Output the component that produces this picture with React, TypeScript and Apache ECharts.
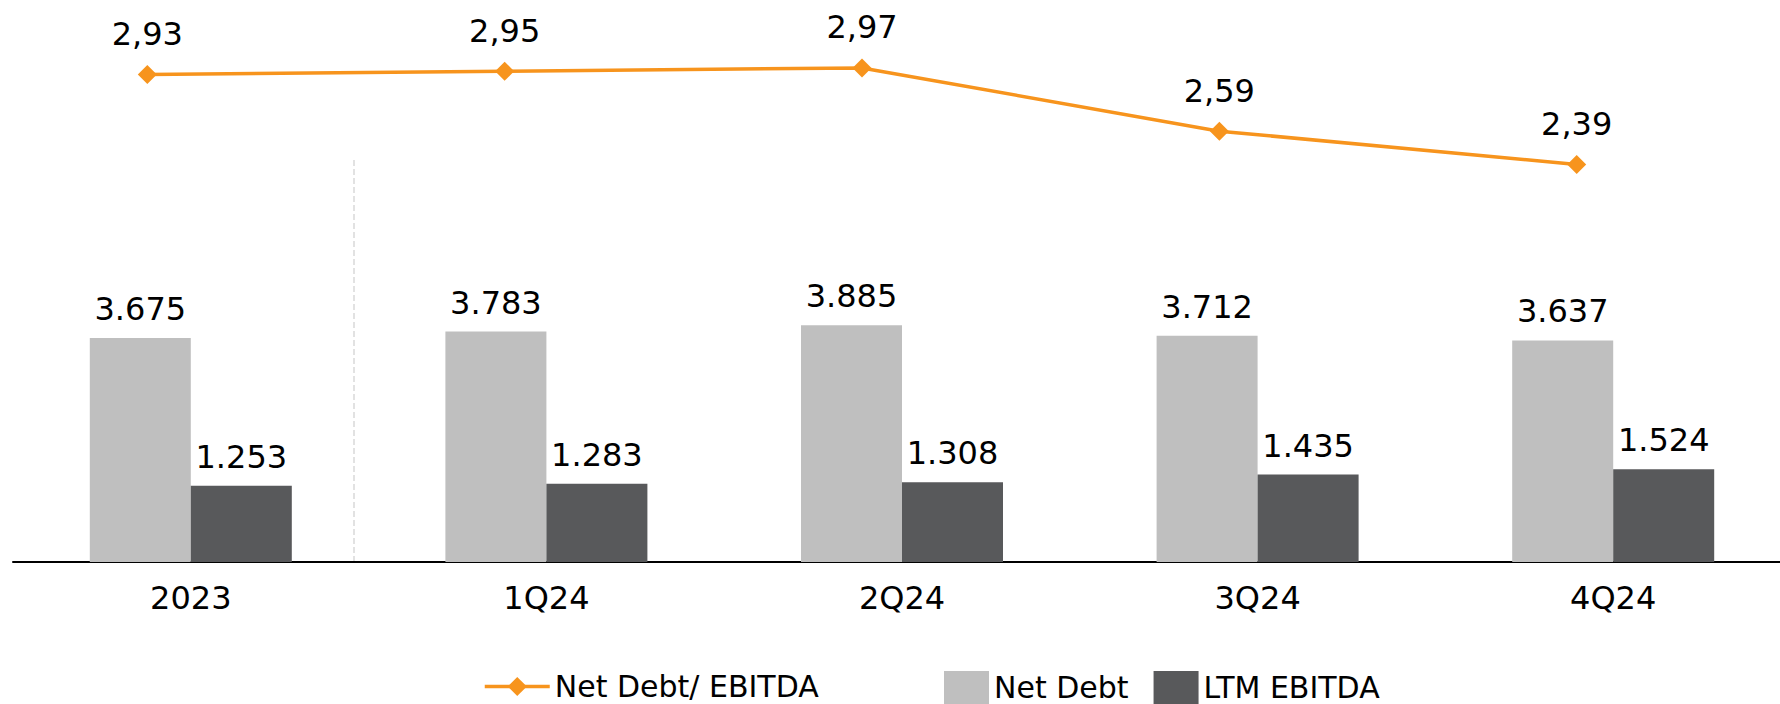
import React, { useEffect, useRef } from "react";
import * as echarts from "echarts";

const categories = ["2023", "1Q24", "2Q24", "3Q24", "4Q24"];
const netDebt = [3675, 3783, 3885, 3712, 3637];
const ltmEbitda = [1253, 1283, 1308, 1435, 1524];
const leverage = [2.93, 2.95, 2.97, 2.59, 2.39];

const FONT = "DejaVu Sans";
const TEXT = "#000000";

function fmtThousands(v: number): string {
  return String(Math.round(v)).replace(/\B(?=(\d{3})+(?!\d))/g, ".");
}
function fmtDecimal(v: number): string {
  return v.toFixed(2).replace(".", ",");
}

export default function App() {
  const ref = useRef<HTMLDivElement>(null);
  useEffect(() => {
    if (!ref.current) return;
    const chart = echarts.init(ref.current, undefined, { renderer: "svg" });
    const labelStyle = { fontFamily: FONT, fontSize: 32, color: TEXT };
    const legendText = { fontFamily: FONT, fontSize: 30, color: TEXT, lineHeight: 33 };
    chart.setOption({
      animation: false,
      backgroundColor: "#ffffff",
      textStyle: { fontFamily: FONT },
      grid: [
        { left: 13, width: 1778, top: 38, height: 524 },
        { left: 147.3, width: 1429.4, top: 38, height: 524 },
      ],
      xAxis: [
        {
          type: "category",
          gridIndex: 0,
          data: categories,
          axisLine: { show: true, lineStyle: { color: "#000000", width: 2 } },
          axisTick: { show: false },
          axisLabel: { ...labelStyle, margin: 20 },
          splitLine: { show: false },
        },
        {
          type: "category",
          gridIndex: 1,
          data: categories,
          boundaryGap: false,
          show: false,
        },
      ],
      yAxis: [
        { type: "value", gridIndex: 0, min: 0, max: 8600, show: false, splitLine: { show: false } },
        { type: "value", gridIndex: 1, min: 0, max: 3.15, show: false, splitLine: { show: false } },
      ],
      legend: [
        {
          left: 478,
          top: 665,
          itemWidth: 65,
          itemHeight: 24,
          itemGap: 25,
          lineStyle: { width: 3.5 },
          textStyle: legendText,
          data: ["Net Debt/ EBITDA"],
        },
        {
          left: 939,
          top: 666,
          itemWidth: 45,
          itemHeight: 33,
          itemGap: 25,
          textStyle: legendText,
          data: [
            { name: "Net Debt", icon: "rect" },
            { name: "LTM EBITDA", icon: "rect" },
          ],
        },
      ],
      graphic: [
        {
          type: "line",
          shape: { x1: 354, y1: 160, x2: 354, y2: 561 },
          style: { stroke: "#d9d9d9", lineWidth: 1.5, lineDash: [6, 3] },
          z: 0,
        },
      ],
      series: [
        {
          name: "Net Debt",
          type: "bar",
          xAxisIndex: 0,
          yAxisIndex: 0,
          data: netDebt,
          barWidth: 101,
          barGap: "0%",
          itemStyle: { color: "#bfbfbf" },
          label: {
            show: true,
            position: "top",
            distance: 13,
            ...labelStyle,
            formatter: (p: any) => fmtThousands(p.value),
          },
        },
        {
          name: "LTM EBITDA",
          type: "bar",
          xAxisIndex: 0,
          yAxisIndex: 0,
          data: ltmEbitda,
          barWidth: 101,
          barGap: "0%",
          itemStyle: { color: "#58595b" },
          label: {
            show: true,
            position: "top",
            distance: 13,
            ...labelStyle,
            formatter: (p: any) => fmtThousands(p.value),
          },
        },
        {
          name: "Net Debt/ EBITDA",
          type: "line",
          xAxisIndex: 1,
          yAxisIndex: 1,
          data: leverage,
          symbol: "diamond",
          symbolSize: 19,
          lineStyle: { color: "#f7941d", width: 3.5 },
          itemStyle: { color: "#f7941d" },
          label: {
            show: true,
            position: "top",
            distance: 15,
            ...labelStyle,
            formatter: (p: any) => fmtDecimal(p.value),
          },
          z: 5,
        },
      ],
    });
    return () => chart.dispose();
  }, []);
  return (
    <div
      ref={ref}
      style={{ position: "fixed", left: 0, top: 0, width: 1800, height: 704, background: "#fff" }}
    />
  );
}
